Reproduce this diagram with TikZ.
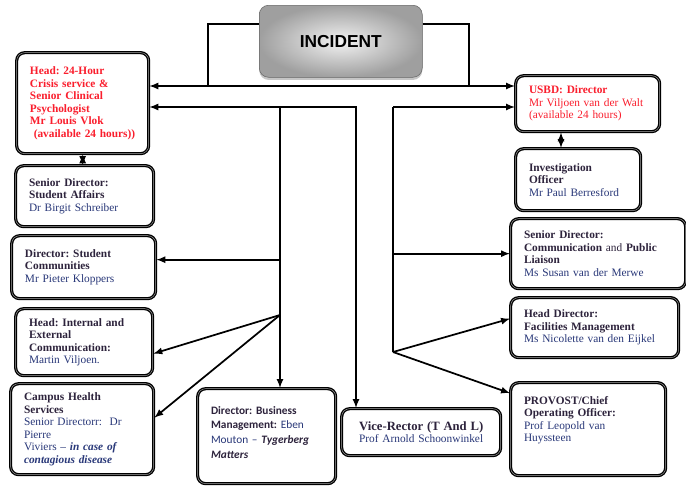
\documentclass[tikz,border=0pt]{standalone}
\usepackage{fontspec}
\setmainfont{Liberation Serif}
\setsansfont{Liberation Sans}
\newfontfamily\calibfont[Ligatures=TeX]{Carlito}
\usetikzlibrary{positioning,shadows,arrows}

\definecolor{headcol}{RGB}{45,35,60}
\definecolor{namecol}{RGB}{40,55,120}
\definecolor{alertcol}{RGB}{250,30,45}

\newcommand{\boxhead}[1]{\textbf{#1}}
\newcommand{\boxname}[1]{{\color{namecol}#1}}

\tikzset{
	box/.style={draw, rounded corners=6pt, line width=1pt, double=gray!70, double distance=0.35pt,
		fill=white, anchor=north west, inner xsep=10pt, inner ysep=3pt, align=left,
		font=\frenchspacing\fontsize{8.5}{9.4}\selectfont, text=headcol},
	alertbox/.style={box, text=alertcol},
	incidentbox/.style={draw=gray!80!black, rounded corners=7pt, anchor=north west,
		minimum width=122.25pt, minimum height=54pt, inner color=gray!10, outer color=gray!75,
		drop shadow={shadow xshift=0pt, shadow yshift=-2pt, opacity=0.45},
		font=\sffamily\bfseries\fontsize{13}{15}\selectfont},
	link/.style={line width=1.3pt},
}

\begin{document}
\begin{tikzpicture}[x=0.75pt, y=-0.75pt, >=latex]
	
	\useasboundingbox (0,0) rectangle (686,486);
	
	% top of the chart
	\node[incidentbox] (incident) at (259,5) {INCIDENT};
	
	% left column
	\node[alertbox, text width=79pt, minimum height=75.75pt] (crisis) at (16,52)
		{\boxhead{Head: 24-Hour\\ Crisis service \&\\ Senior Clinical\\ Psychologist\\ Mr Louis Vlok\\ \ (available 24 hours))}};
	\node[box, text width=83.5pt, minimum height=45.75pt] (affairs) at (15,165)
		{\boxhead{Senior Director:\\ Student Affairs}\\ \boxname{Dr Birgit Schreiber}};
	\node[box, text width=88pt, minimum height=47.25pt] (communities) at (11,235)
		{\boxhead{Director: Student\\ Communities}\\ \boxname{Mr Pieter Kloppers}};
	\node[box, text width=82.75pt, minimum height=50.25pt] (internal) at (15,308)
		{\boxhead{Head: Internal and\\ External\\ Communication:}\\ \boxname{Martin Viljoen.}};
	\node[box, text width=87.25pt, minimum height=68.25pt] (campus) at (10,383)
		{\boxhead{Campus Health\\ Services}\\ \boxname{Senior Directorr:\ \ Dr\\ Pierre\\ Viviers \textendash{} \textbf{\textit{in case of\\ contagious disease}}}};
	
	% bottom row
	\node[box, text width=83.5pt, minimum height=71.25pt, font=\calibfont\frenchspacing\fontsize{8.5}{11}\selectfont] (business) at (197,388)
		{\boxhead{Director: Business\\ Management:} \boxname{Eben\\ Mouton \textendash} \textbf{\textit{Tygerberg\\ Matters}}\par\vspace*{6pt}};
	\node[box, text width=99.25pt, minimum height=35.25pt, align=center] (vice) at (341,408)
		{\boxhead{\fontsize{9.5}{10.5}\selectfont Vice-Rector (T And L)}\\ \boxname{Prof Arnold Schoonwinkel}};
	
	% right column
	\node[alertbox, text width=88pt, minimum height=42pt] (usbd) at (515,75)
		{\boxhead{USBD: Director}\\ Mr Viljoen van der Walt\\ (available 24 hours)};
	\node[box, text width=73.75pt, minimum height=46.5pt] (invest) at (515,148)
		{\boxhead{Investigation\\ Officer}\\ \boxname{Mr Paul Berresford}};
	\node[box, text width=111.25pt, minimum height=52.5pt] (comm) at (510,218)
		{\boxhead{Senior Director:}\\ \boxhead{Communication} and \boxhead{Public}\\ \boxhead{Liaison}\\ \boxname{Ms Susan van der Merwe}};
	\node[box, text width=106pt, minimum height=45pt] (facil) at (510,297)
		{\boxhead{Head Director:\\ Facilities Management}\\ \boxname{Ms Nicolette van den Eijkel}};
	\node[box, text width=96.25pt, minimum height=69.75pt] (provost) at (510,382)
		{\boxhead{PROVOST/Chief\\ Operating Officer:}\\ \boxname{Prof Leopold van\\ Huyssteen}\par\vspace*{13.5pt}};
	
	% bus lines
	\coordinate (topL) at (208,24);
	\coordinate (topR) at (469,24);
	\coordinate (busT) at (0,86);
	\coordinate (busB) at (0,107);
	\coordinate (spineL) at (280,0);
	\coordinate (spineC) at (356,0);
	\coordinate (spineR) at (393,0);
	\coordinate (forkL) at (280,315);
	\coordinate (forkR) at (393,352);
	
	\draw[link] (incident.west |- topL) -| (topL |- busT);
	\draw[link] (incident.east |- topR) -| (topR |- busT);
	\draw[link,<->] (crisis.east |- busT) -- (usbd.west |- busT);
	\draw[link,<->] (crisis.east |- busB) -| (spineC |- vice.north);
	\draw[link,->] (spineR |- busB) -- (usbd.west |- busB);
	\draw[link] (spineR |- busB) -- (forkR);
	\draw[link,->] (spineL |- busB) -- (spineL |- business.north);
	
	% branches
	\path ([yshift=5.6pt]communities.east) coordinate (commuIn);
	\draw[link,->] (spineL |- commuIn) -- (commuIn);
	\draw[link,->] (forkL) -- ([yshift=-8.6pt]internal.east);
	\draw[link,->] (forkL) -- ([yshift=8.6pt]campus.east);
	\draw[link,->] (spineR |- comm.west) -- (comm.west);
	\draw[link,->] (forkR) -- ([yshift=6.75pt]facil.west);
	\draw[link,->] (forkR) -- ([yshift=27pt]provost.west);
	
	% stacked boxes
	\draw[link,<->] (crisis.south) -- (crisis.south |- affairs.north);
	\path ([xshift=-20pt]usbd.south) coordinate (usbdS);
	\draw[link,<->] (usbdS) -- (usbdS |- invest.north);
	
\end{tikzpicture}
\end{document}
